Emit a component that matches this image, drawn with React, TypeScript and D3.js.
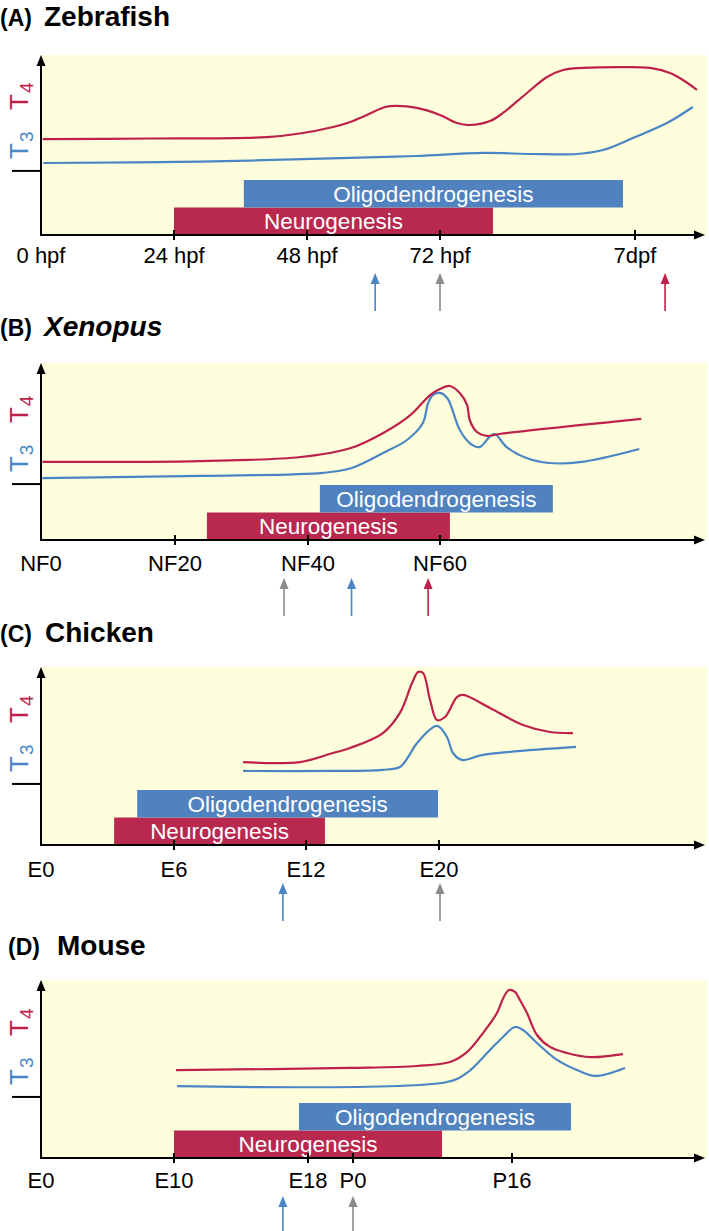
import * as d3 from "d3";

// (A) Zebrafish — hours post fertilisation
const zebraTickLabels = ["0 hpf", "24 hpf", "48 hpf", "72 hpf", "7dpf"];
const zebraTickValues = [0, 24, 48, 72, 168];
const zebraT4 = [
  [0.3, 53.3], [19.7, 53.6], [40.8, 54.4], [46.7, 56.4], [52.7, 60], [55.8, 62.8],
  [58.8, 66.7], [62.1, 71.1], [64.2, 71.7], [67.8, 70.6], [72, 66.7], [80.4, 62.2],
  [86.8, 61.1], [96.6, 63.3], [103, 67.8], [114.8, 78.9], [124.7, 87.8], [132.6, 91.7],
  [142.4, 92.8], [162.1, 93.3], [175.4, 92.8], [185.2, 90], [191.6, 86.1], [198.5, 80.6],
];
const zebraT3 = [
  [0.4, 40], [28.7, 40.8], [55.8, 42.8], [67.8, 43.9], [93.2, 45.6], [117.8, 45],
  [139.4, 45], [152.2, 47.2], [167, 53.9], [183.7, 62.2], [196.5, 71.1],
];
const zebraNeuro = [24, 98.1];
const zebraOligo = [36.6, 162.1];
const zebraArrows = [[60.3, "T3"], [72, "TR"], [182.8, "T4"]];

// (B) Xenopus — Nieuwkoop-Faber stages
const xenoTickLabels = ["NF0", "NF20", "NF40", "NF60"];
const xenoTickValues = [0, 20, 40, 60];
const xenoT4 = [
  [0.2, 44.1], [23.9, 44.6], [38.9, 46.9], [46.5, 52.0], [51.4, 60.5], [55.5, 70.6],
  [58.5, 81.9], [60, 85.3], [61.5, 87.0], [63, 83.1], [64.1, 76.3], [64.5, 67.8],
  [65.6, 61.0], [67.1, 58.8], [69.0, 59.9], [90.5, 68.4],
];
const xenoT3 = [
  [0.2, 35.0], [23.9, 36.2], [42.3, 37.9], [46.5, 40.5], [51.4, 49.2], [55.0, 56.5],
  [57.4, 66.1], [58.2, 77.4], [58.9, 81.9], [60.0, 83.1], [61.1, 80.2], [63.0, 62.1],
  [64.5, 54.8], [66.0, 52.5], [67.5, 58.2], [68.3, 59.9], [70.1, 52.5], [73.1, 46.3],
  [76.5, 43.5], [81.5, 44.1], [90.2, 51.4],
];
const xenoNeuro = [24.8, 61.5];
const xenoOligo = [41.8, 77.1];
const xenoArrows = [[36.4, "TR"], [46.6, "T3"], [58.2, "T4"]];

// (C) Chicken — embryonic days
const chickTickLabels = ["E0", "E6", "E12", "E20"];
const chickTickValues = [0, 6, 12, 20];
const chickT4 = [
  [9.14, 46.6], [11.72, 46.6], [13.62, 51.7], [14.65, 54.5], [16.63, 62.9], [17.65, 74.2],
  [18.38, 91.0], [18.74, 97.2], [19.04, 96.6], [19.46, 81.5], [19.88, 70.2], [20.36, 71.9],
  [21.08, 83.1], [21.44, 84.3], [23.07, 77.0], [25.05, 67.4], [26.68, 63.5], [28.06, 62.9],
];
const chickT3 = [
  [9.14, 41.6], [13.44, 41.6], [16.6, 42.2], [17.65, 43.8], [18.14, 49.4], [18.68, 57.3],
  [19.88, 66.9], [20.48, 60.7], [20.84, 51.7], [21.38, 47.8], [22.65, 50.6], [28.24, 55.1],
];
const chickNeuro = [3.3, 13.14];
const chickOligo = [4.34, 19.94];
const chickArrows = [[10.95, "T3"], [20.06, "TR"]];

// (D) Mouse — days from conception (P0 ~ E19)
const mouseTickLabels = ["E0", "E10", "E18", "P0", "P16"];
const mouseTickValues = [0, 10, 18, 19, 35];
const mouseT4 = [
  [10.12, 49.4], [18.93, 50.6], [25.44, 51.7], [28.76, 53.9], [30.47, 59.5], [32.08, 70.2],
  [33.49, 81.5], [34.09, 89.5], [34.7, 94.4], [35.3, 93.3], [35.8, 88.8], [36.51, 81.5],
  [37.51, 69.1], [38.82, 62.4], [40.53, 59.0], [42.85, 56.7], [46.17, 58.4],
];
const mouseT3 = [
  [10.18, 40.4], [28.46, 42.7], [30.47, 47.8], [32.79, 60.7], [34.09, 68.0], [35.3, 73.6],
  [36.11, 71.9], [37.51, 64.6], [39.53, 55.1], [41.54, 49.4], [43.35, 46.1], [46.37, 50.6],
];
const mouseNeuro = [10, 27.96];
const mouseOligo = [17.46, 40.94];
const mouseArrows = [[16.5, "T3"], [19, "TR"]];

const FONT = "'Liberation Sans', Arial, Helvetica, sans-serif";
const RED = "#b8284f";
const BLUE = "#4f82be";
const LINE_RED = "#bd2149";
const LINE_BLUE = "#4a86c6";
const GRAY = "#8a8a8a";
const BG = "#fefddc";
const arrowColor = { T3: LINE_BLUE, TR: GRAY, T4: LINE_RED };

const panels = [
  {
    tag: "(A)", name: "Zebrafish", italic: false, tagX: 0, nameX: 44, titleY: 26,
    top: 55, bottom: 235, tickPx: [41, 174, 307, 440, 635], labelDy: 28, yTick: 35.6,
    ticks: zebraTickValues, labels: zebraTickLabels, t4: zebraT4, t3: zebraT3,
    neuro: zebraNeuro, oligo: zebraOligo, arrows: zebraArrows,
  },
  {
    tag: "(B)", name: "Xenopus", italic: true, tagX: 0, nameX: 44, titleY: 336,
    top: 363, bottom: 540, tickPx: [41, 175, 308, 440], labelDy: 31, yTick: 31.6,
    ticks: xenoTickValues, labels: xenoTickLabels, t4: xenoT4, t3: xenoT3,
    neuro: xenoNeuro, oligo: xenoOligo, arrows: xenoArrows,
  },
  {
    tag: "(C)", name: "Chicken", italic: false, tagX: 0, nameX: 45, titleY: 642,
    top: 667, bottom: 845, tickPx: [41, 174, 306, 439], labelDy: 32, yTick: 34.3,
    ticks: chickTickValues, labels: chickTickLabels, t4: chickT4, t3: chickT3,
    neuro: chickNeuro, oligo: chickOligo, arrows: chickArrows,
  },
  {
    tag: "(D)", name: "Mouse", italic: false, tagX: 8, nameX: 57, titleY: 955,
    top: 980, bottom: 1158, tickPx: [41, 174, 308, 353, 512], labelDy: 30, yTick: 34.3,
    ticks: mouseTickValues, labels: mouseTickLabels, t4: mouseT4, t3: mouseT3,
    neuro: mouseNeuro, oligo: mouseOligo, arrows: mouseArrows,
  },
];

const Panel = ({ p }) => {
  const x = d3.scaleLinear().domain(p.ticks).range(p.tickPx);
  const y = d3.scaleLinear().domain([0, 100]).range([p.bottom, p.top]);
  const lanes = d3
    .scaleBand()
    .domain(["Neurogenesis", "Oligodendrogenesis"])
    .range([p.bottom, p.bottom - 55]);
  const line = d3
    .line()
    .x((d) => x(d[0]))
    .y((d) => y(d[1]))
    .curve(d3.curveCatmullRom.alpha(0.5));

  const x0 = x(p.ticks[0]);
  const right = 707;
  const tickY = y(p.yTick);
  const bars = [
    { lane: "Neurogenesis", span: p.neuro, color: RED },
    { lane: "Oligodendrogenesis", span: p.oligo, color: BLUE },
  ];

  return (
    <g>
      <text x={p.tagX} y={p.titleY} fontSize={23} fontWeight="bold">{p.tag}</text>
      <text
        x={p.nameX}
        y={p.titleY}
        fontSize={28}
        fontWeight="bold"
        fontStyle={p.italic ? "italic" : "normal"}
      >
        {p.name}
      </text>

      <rect x={x0} y={p.top} width={right - x0} height={p.bottom - p.top} fill={BG} />

      {bars.map((b) => (
        <g key={b.lane}>
          <rect
            x={x(b.span[0])}
            y={lanes(b.lane)}
            width={x(b.span[1]) - x(b.span[0])}
            height={lanes.bandwidth()}
            fill={b.color}
          />
          <text
            x={(x(b.span[0]) + x(b.span[1])) / 2}
            y={lanes(b.lane) + lanes.bandwidth() / 2 + 8}
            textAnchor="middle"
            fontSize={22.5}
            fill="#fff"
          >
            {b.lane}
          </text>
        </g>
      ))}

      <path d={line(p.t3)} fill="none" stroke={LINE_BLUE} strokeWidth={2.2} />
      <path d={line(p.t4)} fill="none" stroke={LINE_RED} strokeWidth={2.2} />

      {/* axes */}
      <line x1={x0} x2={x0} y1={p.bottom + 1} y2={p.top + 8} stroke="#000" strokeWidth={2} />
      <path d={`M${x0},${p.top}L${x0 - 4.5},${p.top + 11}L${x0 + 4.5},${p.top + 11}Z`} fill="#000" />
      <line x1={x0 - 1} x2={696} y1={p.bottom} y2={p.bottom} stroke="#000" strokeWidth={2} />
      <path d={`M705,${p.bottom}L694,${p.bottom - 4.5}L694,${p.bottom + 4.5}Z`} fill="#000" />
      <line x1={12} x2={x0} y1={tickY} y2={tickY} stroke="#000" strokeWidth={2} />

      {p.ticks.map((t, i) => (
        <g key={p.labels[i]}>
          {i > 0 && (
            <line x1={x(t)} x2={x(t)} y1={p.bottom - 5} y2={p.bottom + 5} stroke="#000" strokeWidth={2} />
          )}
          <text x={x(t)} y={p.bottom + p.labelDy} textAnchor="middle" fontSize={22}>
            {p.labels[i]}
          </text>
        </g>
      ))}

      {/* hormone labels */}
      <text transform={`translate(28,${tickY - 61}) rotate(-90)`} fontSize={26} fill={LINE_RED}>
        T<tspan fontSize={19} dy={5} dx={1}>4</tspan>
      </text>
      <text transform={`translate(28,${tickY - 12}) rotate(-90)`} fontSize={26} fill={LINE_BLUE}>
        T<tspan fontSize={19} dy={5} dx={1}>3</tspan>
      </text>

      {/* event arrows */}
      {p.arrows.map(([at, kind]) => {
        const ax = x(at);
        const c = arrowColor[kind];
        return (
          <g key={at}>
            <line x1={ax} x2={ax} y1={p.bottom + 46} y2={p.bottom + 76} stroke={c} strokeWidth={1.6} />
            <path
              d={`M${ax},${p.bottom + 38}L${ax - 4.5},${p.bottom + 49}L${ax + 4.5},${p.bottom + 49}Z`}
              fill={c}
            />
          </g>
        );
      })}
    </g>
  );
};

export default function App() {
  return (
    <div style={{ position: "absolute", left: 0, top: 0 }}>
      <svg width={709} height={1231} style={{ display: "block", fontFamily: FONT }}>
        <rect width={709} height={1231} fill="#fff" />
        {panels.map((p) => (
          <Panel key={p.tag} p={p} />
        ))}
      </svg>
    </div>
  );
}
